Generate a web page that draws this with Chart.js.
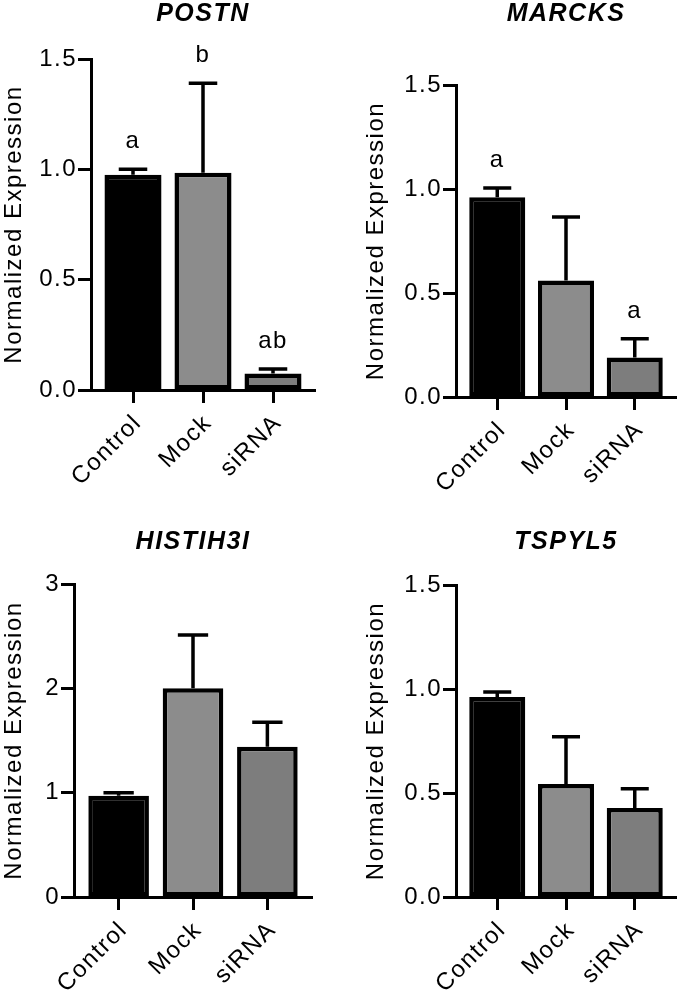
<!DOCTYPE html>
<html>
<head>
<meta charset="utf-8">
<script src="https://cdn.jsdelivr.net/npm/chart.js@4.4.1/dist/chart.umd.min.js"></script>
<style>
  html, body { margin: 0; padding: 0; background: #fff; }
  body { width: 680px; height: 991px; position: relative; overflow: hidden; }
  canvas { position: absolute; }
</style>
</head>
<body>
<canvas id="c3" width="340" height="511" style="left:0;top:480px"></canvas>
<canvas id="c4" width="340" height="511" style="left:340px;top:480px"></canvas>
<canvas id="c1" width="340" height="500" style="left:0;top:0"></canvas>
<canvas id="c2" width="340" height="500" style="left:340px;top:0"></canvas>
<script>
// ---------- data ----------
const categories = ['Control', 'Mock', 'siRNA'];
const yAxisTitle = 'Normalized Expression';

const postnTitle = 'POSTN';
const postnMean = [0.975, 0.985, 0.075];
const postnSD = [0.025, 0.405, 0.02];
const postnLetters = ['a', 'b', 'ab'];
const postnTicks = [0, 0.5, 1.0, 1.5];

const marcksTitle = 'MARCKS';
const marcksMean = [0.96, 0.56, 0.19];
const marcksSD = [0.045, 0.305, 0.09];
const marcksLetters = ['a', '', 'a'];
const marcksTicks = [0, 0.5, 1.0, 1.5];

const histTitle = 'HISTIH3I';
const histMean = [0.97, 2.0, 1.44];
const histSD = [0.03, 0.51, 0.235];
const histLetters = ['', '', ''];
const histTicks = [0, 1, 2, 3];

const tspylTitle = 'TSPYL5';
const tspylMean = [0.962, 0.543, 0.428];
const tspylSD = [0.024, 0.227, 0.092];
const tspylLetters = ['', '', ''];
const tspylTicks = [0, 0.5, 1.0, 1.5];

// ---------- styling ----------
const FONT = '"Liberation Sans", Arial, Helvetica, sans-serif';
const barColors = ['#000000', '#8c8c8c', '#7d7d7d'];

const spacingPlugin = {
  id: 'spacing',
  beforeDraw(chart) { try { chart.ctx.letterSpacing = '1.5px'; } catch (e) {} }
};

const errPlugin = {
  id: 'errbars',
  afterDatasetsDraw(chart, args, opts) {
    const ctx = chart.ctx;
    const meta = chart.getDatasetMeta(0);
    const ys = chart.scales.y;
    const ds = chart.data.datasets[0];
    meta.data.forEach((bar, i) => {
      const mean = ds.data[i].y;
      const top = ys.getPixelForValue(mean + opts.sd[i]);
      const half = bar.width / 4;
      ctx.save();
      ctx.strokeStyle = '#000';
      ctx.lineWidth = 3.5;
      ctx.lineCap = 'butt';
      ctx.beginPath();
      ctx.moveTo(bar.x, bar.y);
      ctx.lineTo(bar.x, top);
      ctx.moveTo(bar.x - half, top);
      ctx.lineTo(bar.x + half, top);
      ctx.stroke();
      const L = opts.letters && opts.letters[i];
      if (L) {
        ctx.font = '24px ' + FONT;
        ctx.fillStyle = '#000';
        ctx.textAlign = 'center';
        ctx.textBaseline = 'alphabetic';
        ctx.fillText(L, bar.x, top - 21);
      }
      ctx.restore();
    });
  }
};

function makeChart(id, title, mean, sd, letters, ticks, decimals, lay) {
  const font = { family: FONT, size: 24 };
  return new Chart(document.getElementById(id), {
    type: 'bar',
    data: {
      datasets: [{
        data: mean.map((v, i) => ({ x: i, y: v })),
        backgroundColor: barColors,
        borderColor: '#000',
        borderWidth: 4.5,
        borderSkipped: false,
        categoryPercentage: 1,
        barPercentage: 0.815
      }]
    },
    options: {
      responsive: false,
      animation: false,
      devicePixelRatio: 1,
      layout: { padding: { left: lay.padL, right: lay.padR, top: 0, bottom: 0 } },
      plugins: {
        legend: { display: false },
        tooltip: { enabled: false },
        title: {
          display: true, text: title, fullSize: false, color: '#000',
          font: { family: FONT, size: 25, weight: 'bold', style: 'italic', lineHeight: 1 },
          padding: { top: lay.tTop, bottom: lay.tBot }
        },
        errbars: { sd: sd, letters: letters }
      },
      scales: {
        x: {
          type: 'linear', min: -0.6, max: 2.6, offset: false,
          afterBuildTicks: s => { s.ticks = categories.map((c, i) => ({ value: i })); },
          afterFit: s => { s.height = lay.xH; },
          ticks: {
            autoSkip: false, minRotation: 45, maxRotation: 45, color: '#000', font: font,
            padding: 6, labelOffset: 5,
            callback: v => categories[Math.round(v)]
          },
          grid: { offset: false, drawOnChartArea: false, drawTicks: true, tickLength: 13, tickWidth: 3, tickColor: '#000', color: '#000' },
          border: { display: true, color: '#000', width: 3 }
        },
        y: {
          min: 0, max: ticks[ticks.length - 1],
          afterBuildTicks: s => { s.ticks = ticks.map(v => ({ value: v })); },
          afterFit: s => { s.width = lay.yW; },
          ticks: { color: '#000', font: font, padding: 1, callback: v => Number(v).toFixed(decimals) },
          grid: { drawOnChartArea: false, drawTicks: true, tickLength: 13, tickWidth: 3, tickColor: '#000', color: '#000' },
          border: { display: true, color: '#000', width: 3 },
          title: { display: true, text: yAxisTitle, color: '#000', font: font, padding: { top: 0, bottom: 0 } }
        }
      }
    },
    plugins: [spacingPlugin, errPlugin]
  });
}

makeChart('c1', postnTitle, postnMean, postnSD, postnLetters, postnTicks, 1,
  { padL: 0, padR: 25, yW: 91, xH: 110, tTop: 1.5, tBot: 32.5 });
makeChart('c2', marcksTitle, marcksMean, marcksSD, marcksLetters, marcksTicks, 1,
  { padL: 22, padR: 4, yW: 94, xH: 103, tTop: 1.5, tBot: 58.5 });
makeChart('c3', histTitle, histMean, histSD, histLetters, histTicks, 0,
  { padL: 0, padR: 28, yW: 74, xH: 94, tTop: 50, tBot: 29 });
makeChart('c4', tspylTitle, tspylMean, tspylSD, tspylLetters, tspylTicks, 1,
  { padL: 22, padR: 4, yW: 94, xH: 94, tTop: 50, tBot: 30 });
</script>
</body>
</html>
